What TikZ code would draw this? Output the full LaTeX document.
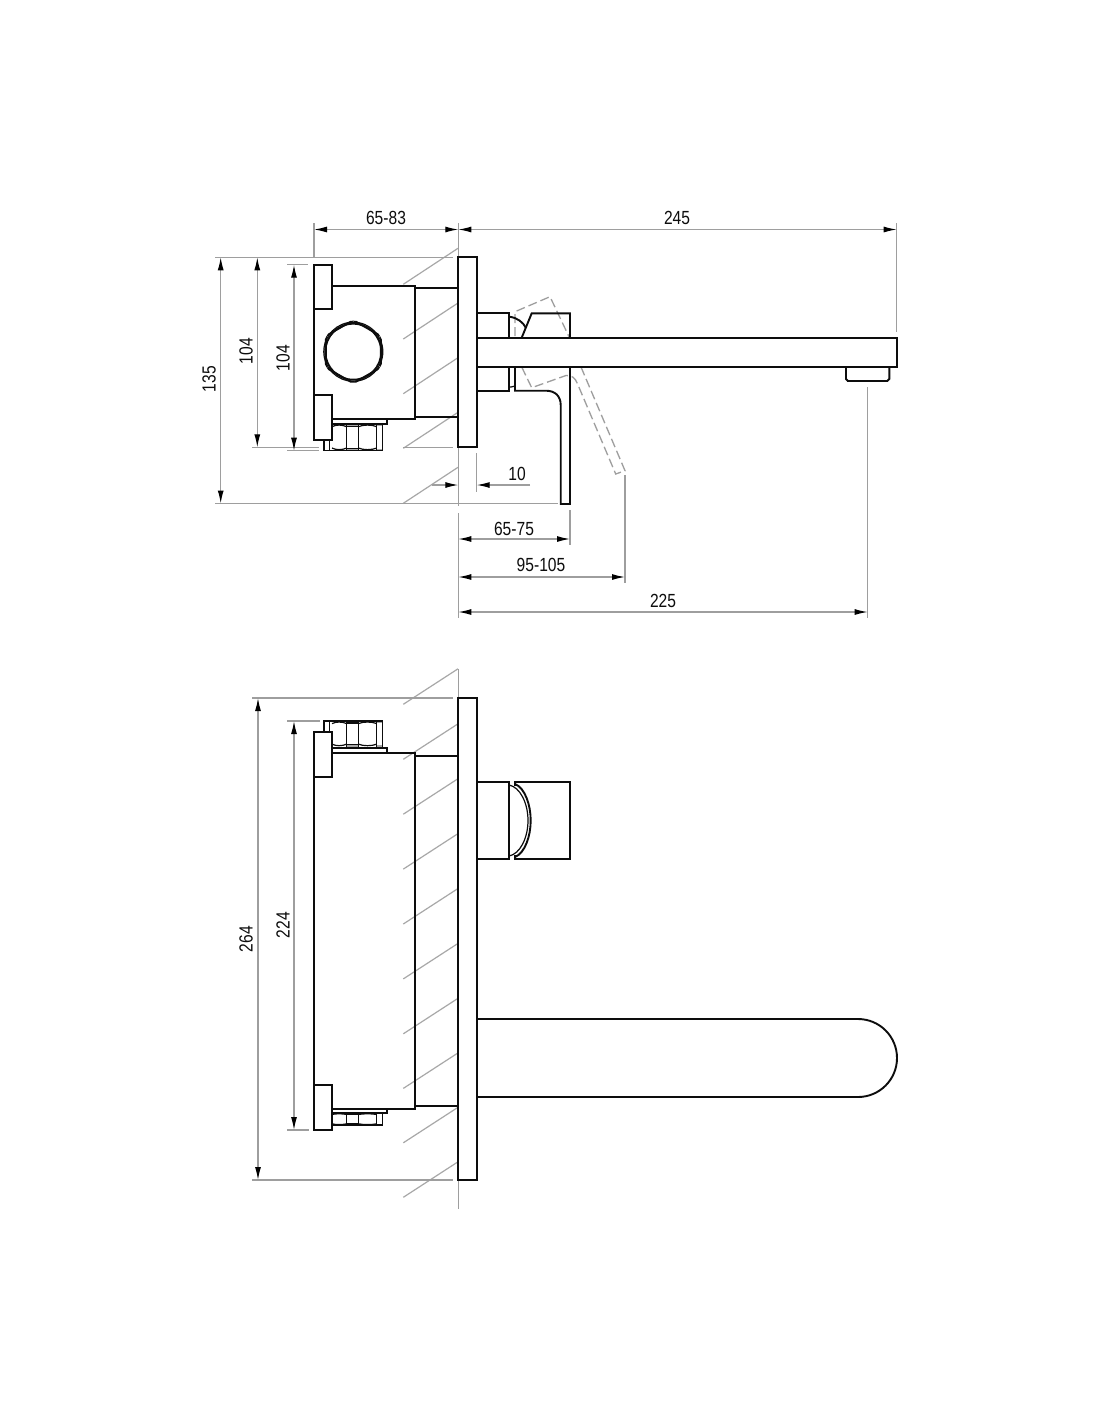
\documentclass[tikz,border=0pt]{standalone}
\usepackage{fontspec}
\setmainfont[FakeStretch=0.82]{Liberation Sans}
\usetikzlibrary{arrows.meta}
\definecolor{dimgray}{gray}{0.62}
\definecolor{hatchgray}{gray}{0.66}
\definecolor{inkblack}{gray}{0.05}
\tikzset{
  part/.style={draw=inkblack,line width=1.9pt,line join=miter},
  thinpart/.style={draw=inkblack,line width=1.2pt},
  extline/.style={draw=dimgray,line width=1.2pt},
  hatchline/.style={draw=hatchgray,line width=1.2pt},
  dimline/.style={draw=dimgray,line width=1.2pt,{Latex[length=13pt,width=6pt,black]}-{Latex[length=13pt,width=6pt,black]}},
  dimtip/.style={draw=dimgray,line width=1.2pt,-{Latex[length=13pt,width=6pt,black]}},
  dashpart/.style={draw=dimgray,line width=1.3pt,dash pattern=on 9pt off 4pt},
  dimtext/.style={font=\fontsize{19}{20}\selectfont,text=inkblack,inner sep=0pt},
}
\newcommand{\hexnut}[2]{%
  \begin{scope}[shift={(0,#1)},yscale={#2-#1}]
    \fill[gray!70] (346.7,0) rectangle (358.5,.08);
    \fill[gray!70] (346.7,.92) rectangle (358.5,1);
    \fill[gray!70] (376.7,0) rectangle (382.7,.08);
    \fill[gray!70] (376.7,.92) rectangle (382.7,1);
    \draw[part,line width=1.5pt] (324,.5) -- (324,1) -- (382.7,1) -- (382.7,0);
    \draw[part,line width=1.5pt] (329.5,.5) -- (329.5,1);
    \draw[part,line width=1.5pt] (346.7,0) -- (346.7,1);
    \draw[part,line width=1.5pt] (358.5,0) -- (358.5,1);
    \draw[part,line width=1.5pt] (376.7,0) -- (376.7,1);
    \draw[thinpart] (332,.9) .. controls (336,.98) and (342,.98) .. (346.7,.9);
    \draw[thinpart] (358.5,.9) .. controls (363,.98) and (372,.98) .. (376.7,.9);
    \draw[thinpart] (358.5,.1) .. controls (363,.02) and (372,.02) .. (376.7,.1);
    \draw[thinpart] (332,.1) .. controls (336,.02) and (342,.02) .. (346.7,.1);
    \draw[thinpart] (346.7,.92) -- (358.5,.92) (346.7,.08) -- (358.5,.08);
  \end{scope}}
\begin{document}
\begin{tikzpicture}[x=1pt,y=-1pt]
\useasboundingbox (0,0) rectangle (1100,1422);
\fill[white] (0,0) rectangle (1100,1422);
% ---------- upper view: hatching
\foreach \yy in {284.3,339,393.7,448.3,503.3}
  \draw[hatchline] (403.3,\yy) -- (458,\yy-36);
% extension lines
\coordinate (wallA) at (458.3,223);
\coordinate (wallB) at (458.3,506);
\coordinate (wallC) at (458.3,513);
\coordinate (wallD) at (458.3,618);
\draw[extline] (wallA) -- (wallB) (wallC) -- (wallD);
\draw[extline] (314,223) -- (314,257);
\draw[extline] (896.7,223) -- (896.7,332);
\draw[extline] (867.7,387) -- (867.7,618);
\draw[extline] (215,257.3) -- (453,257.3);
\draw[extline] (215,503.5) -- (558,503.5);
\draw[extline] (252,447.3) -- (319,447.3) (403,447.3) -- (453,447.3);
\draw[extline] (287,264.7) -- (308,264.7);
\draw[extline] (287,450.7) -- (319,450.7);
\draw[extline] (476.7,453) -- (476.7,492);
\draw[extline] (570,510) -- (570,545);
\draw[extline] (625,475) -- (625,583);
% dimensions
\coordinate (d1a) at (314,229.5); \coordinate (d1b) at (458.3,229.5); \coordinate (d1c) at (896.7,229.5);
\draw[dimline] (d1a) -- (d1b);
\draw[dimline] (d1b) -- (d1c);
\draw[dimline] (220.7,257.3) -- (220.7,503.5);
\draw[dimline] (257.3,257.3) -- (257.3,447.3);
\draw[dimline] (294,264.7) -- (294,450.7);
\draw[dimtip] (431.7,485) -- (458.3,485);
\draw[dimtip] (530,485) -- (476.7,485);
\draw[dimline] (458.3,539) -- (570,539);
\draw[dimline] (458.3,577) -- (625,577);
\draw[dimline] (458.3,612) -- (867.7,612);
\node[dimtext] (t6583) at (386,217.5) {65-83};
\node[dimtext] (t245) at (677,217.5) {245};
\node[dimtext,rotate=90] (t135) at (209,379) {135};
\node[dimtext,rotate=90] (t104a) at (246,351) {104};
\node[dimtext,rotate=90] (t104b) at (283,358) {104};
\node[dimtext] (t10) at (517,473.5) {10};
\node[dimtext] (t6575) at (514,529) {65-75};
\node[dimtext] (t95105) at (541,565) {95-105};
\node[dimtext] (t225) at (663,601) {225};
% dashed lever
\draw[dashpart] (515,336) -- (515,311.7) -- (550,296.7) -- (569.3,337.3);
\draw[dashpart] (581,367) -- (625,470.7) -- (615.7,474) -- (577.3,383.3)
   .. controls (575,378) and (572,375) .. (566,375.5) -- (531.7,387.7) -- (521.7,367);
% solid parts upper view
\hexnut{424}{450.7}
\draw[part,fill=white] (332.3,419.3) rectangle (387.3,424);
\draw[part] (415,288.3) -- (458.3,288.3) (415,416.7) -- (458.3,416.7);
\draw[part] (332.3,285.7) -- (415,285.7) -- (415,419.3) -- (332.3,419.3);
\draw[part] (314,309.3) -- (314,395);
\draw[part,fill=white] (314,264.7) rectangle (332.3,309.3);
\draw[part,fill=white] (314,395) rectangle (332.3,440.3);
\draw[part,fill=white] (458.3,257.3) rectangle (476.7,447.3);
% round nut
\begin{scope}
  \clip (353.3,351.7) circle (31);
  \draw[part] (353.3,320.2) -- (380.8,336) -- (380.8,367.5) -- (353.3,383.2) -- (325.8,367.5) -- (325.8,336) -- cycle;
\end{scope}
\draw[part] (353.3,351.7) circle (28);
\draw[thinpart] (353.3,351.7) circle (29.5);
% escutcheon neck and spout
\draw[part] (476.7,313.3) -- (509,313.3) -- (509,337.7);
\draw[part] (476.7,390.7) -- (509,390.7) -- (509,367);
\draw[part] (476.7,337.7) -- (896.7,337.7) -- (896.7,366.7) -- (476.7,366.7);
\draw[part] (846,366.7) -- (846,379) -- (848,381) -- (887.3,381) -- (889.3,379) -- (889.3,366.7);
\draw[part,line width=2.6pt] (847,381) -- (888.3,381);
% handle
\draw[part] (521.7,337.7) -- (531.7,313.3) -- (570,313.3) -- (570,337.7);
\draw[part] (509,316.7) .. controls (517,317.5) and (523,322) .. (526,328);
\draw[part] (570,366.7) -- (570,504) -- (560.7,504) -- (560.7,405)
   .. controls (560.7,396) and (555,390.7) .. (546,390.7) -- (515,390.7) -- (515,366.7);
\draw[thinpart] (509,387) -- (511,387) .. controls (512.5,387) and (513.5,387) .. (515,386);
% ---------- lower view
\foreach \yy in {704.3,759.3,814.2,869.1,924,978.9,1033.8,1088.4,1142.8,1197.3}
  \draw[hatchline] (403.3,\yy) -- (458,\yy-35.5);
\coordinate (wallE) at (458.3,669);
\coordinate (wallF) at (458.3,1209);
\draw[extline] (wallE) -- (wallF);
\draw[extline] (252,698) -- (453,698);
\draw[extline] (252,1180) -- (453,1180);
\draw[extline] (287,721) -- (320,721);
\draw[extline] (287,1130) -- (309,1130);
\draw[dimline] (258,698) -- (258,1180);
\draw[dimline] (294,721) -- (294,1130);
\node[dimtext,rotate=90] (t264) at (246,939) {264};
\node[dimtext,rotate=90] (t224) at (283,925) {224};
\hexnut{746.7}{721}
\hexnut{1113.3}{1125}
\draw[part,fill=white] (332.3,748) rectangle (387.3,752.7);
\draw[part,fill=white] (332.3,1109) rectangle (387.3,1113.3);
\draw[part] (314,776) -- (314,1085);
\draw[part] (332.3,752.7) -- (414.7,752.7) -- (414.7,1109) -- (332.3,1109);
\draw[part] (414.7,756) -- (458.3,756) (414.7,1106) -- (458.3,1106);
\draw[part,fill=white] (314,731.7) rectangle (332.3,776.7);
\draw[part,fill=white] (314,1085) rectangle (332.3,1130);
\draw[part,fill=white] (458.3,698) rectangle (476.7,1180);
\draw[part] (476.7,781.7) -- (509,781.7) -- (509,859) -- (476.7,859);
\draw[part] (515,786) -- (515,782.3) -- (570,782.3) -- (570,859) -- (515,859) -- (515,855);
\draw[part] (515,784) .. controls (525,788) and (530.7,805) .. (530.7,820.5)
   .. controls (530.7,836) and (525,853) .. (515,857);
\draw[thinpart] (509,785) .. controls (520,787) and (528,803) .. (528,820.5)
   .. controls (528,838) and (520,854) .. (509,856);
\draw[part] (476.7,1019) -- (858,1019) arc[start angle=-90,end angle=90,radius=39] -- (476.7,1097);
\end{tikzpicture}
\end{document}
